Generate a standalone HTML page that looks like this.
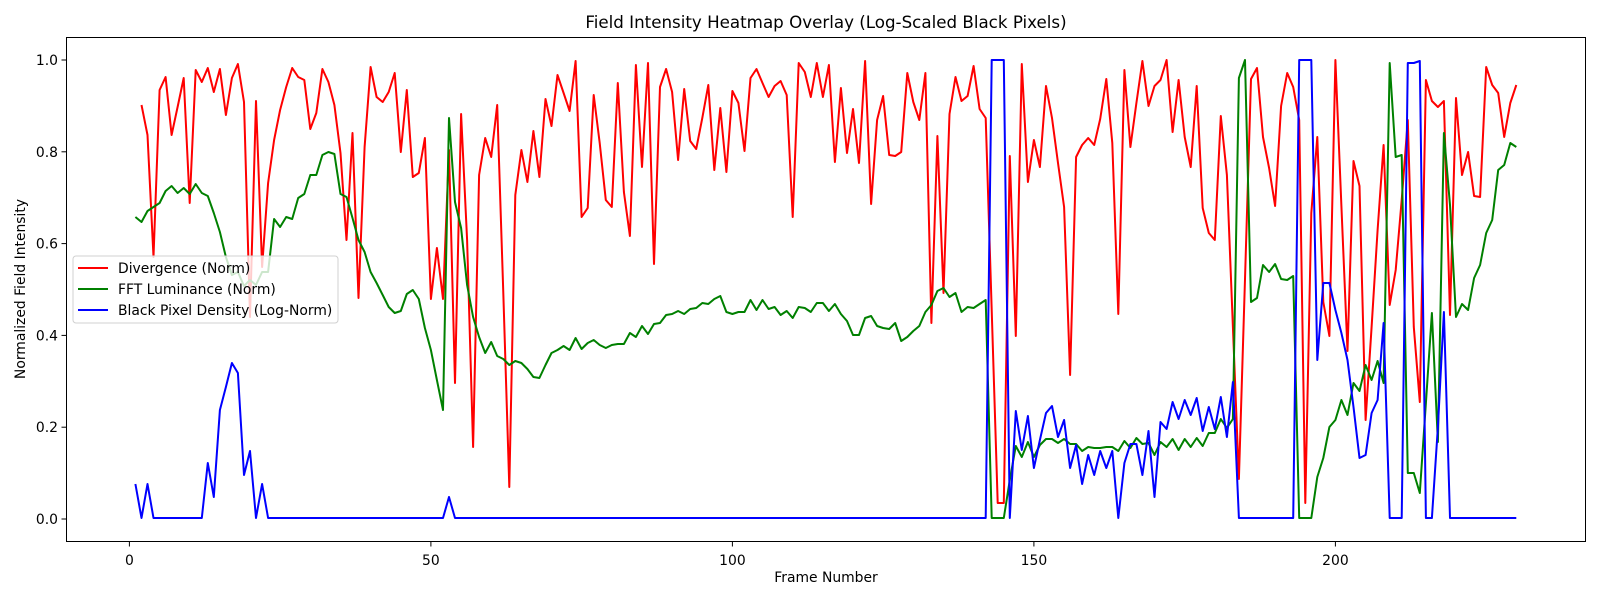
<!DOCTYPE html>
<html><head><meta charset="utf-8"><style>
html,body{margin:0;padding:0;background:#fff;}
svg{display:block;font-family:"DejaVu Sans","Liberation Sans",sans-serif;}
</style></head><body>
<svg id="s" width="1600" height="600" xmlns="http://www.w3.org/2000/svg">
<rect width="1600" height="600" fill="#fff"/>
<g id="plot"></g>
<rect x="66.5" y="37.5" width="1519" height="504" fill="none" stroke="#000" stroke-width="1"/>
<g id="ticks" font-size="13.9" fill="#000"></g>
<text x="826" y="28" font-size="16.7" text-anchor="middle">Field Intensity Heatmap Overlay (Log-Scaled Black Pixels)</text>
<text x="826" y="582" font-size="13.9" text-anchor="middle">Frame Number</text>
<text transform="translate(25,289) rotate(-90)" font-size="13.9" text-anchor="middle">Normalized Field Intensity</text>
<g>
<rect x="73" y="256" width="265" height="67" rx="3" fill="#fff" fill-opacity="0.8" stroke="#d0d0d0" stroke-width="1"/>
<line x1="78" y1="268" x2="108" y2="268" stroke="#ff0000" stroke-width="2"/>
<line x1="78" y1="289" x2="108" y2="289" stroke="#008000" stroke-width="2"/>
<line x1="78" y1="310" x2="108" y2="310" stroke="#0000ff" stroke-width="2"/>
<text x="118" y="273" font-size="13.9">Divergence (Norm)</text>
<text x="118" y="294" font-size="13.9">FFT Luminance (Norm)</text>
<text x="118" y="315" font-size="13.9">Black Pixel Density (Log-Norm)</text>
</g>
</svg>
<script>
var NS="http://www.w3.org/2000/svg";
function X(f){return 129.4+6.03*f;}
var red=[105,135,257,90,77,135,107,78,203,70,82,68,92,69,115,78,64,102,317,101,267,183,140,110,87,68,77,80,129,113,69,82,105,153,240,133,298,
147,67,97,102,92,73,152,90,177,173,138,299,248,299,150,383,114,240,447,175,138,157,105,293,487,195,150,182,131,177,99,126,75,93,111,61,217,208,95,143,200,207,
83,192,236,65,167,63,264,87,69,92,160,89,141,149,118,85,170,108,172,91,103,151,78,69,83,97,86,81,95,217,63,72,97,63,97,65,162,88,153,
109,163,61,204,120,96,155,156,152,73,102,120,73,323,136,293,114,77,101,96,66,109,118,310,503,503,156,336,64,182,140,167,86,118,163,207,375,157,145,138,
145,119,79,143,314,70,147,103,61,106,86,80,60,132,80,137,167,86,208,233,240,116,175,327,479,279,79,68,137,168,206,106,73,87,120,503,213,137,302,336,
60,206,351,161,186,420,327,230,145,305,270,200,120,327,402,80,101,107,101,315,98,175,152,196,197,67,85,93,137,103,85];
var green=[217,222,211,207,203,191,186,193,188,194,
184,193,196,213,232,257,275,272,286,280,
285,272,272,219,227,217,219,198,194,175,
175,155,152,154,194,197,218,240,252,272,
283,295,307,313,311,294,290,299,328,350,
380,410,118,202,228,285,317,337,353,342,
356,359,365,361,363,369,377,378,365,353,
350,346,350,338,349,343,340,345,348,345,
344,344,333,337,326,334,324,323,315,314,
311,314,309,308,303,304,299,296,312,314,
312,312,300,310,300,309,307,315,311,318,
307,308,312,303,303,311,304,314,321,335,
335,318,316,326,328,329,323,341,337,331,
326,312,305,291,288,297,293,312,307,308,
304,300,518,518,518,480,446,457,442,457,
445,439,439,443,439,444,444,451,447,448,
448,447,447,451,441,448,438,444,443,455,
442,447,439,450,439,447,438,446,433,433,
419,428,419,78,60,302,298,265,272,264,
279,280,276,518,518,518,477,458,427,420,
400,415,383,391,365,380,361,383,63,157,
155,473,473,493,403,313,442,133,205,317,
304,310,278,265,233,220,170,165,143,147];
var bmap={1:484,3:484,13:463,14:497,15:410,16:387,17:363,18:373,19:475,20:451,22:484,53:497,143:60,144:60,145:60,
147:411,148:450,149:416,150:468,151:440,152:413,153:406,154:437,155:420,156:468,157:445,158:484,159:455,160:475,161:451,162:468,163:451,
165:463,166:444,167:444,168:475,169:431,170:497,171:422,172:429,173:402,174:419,175:400,176:415,177:398,178:431,179:407,180:429,181:397,182:437,183:382,
194:60,195:60,196:60,197:360,198:283,199:283,200:310,201:333,202:360,203:407,204:458,205:455,206:413,207:400,208:323,212:63,213:63,214:61,217:427,218:312};
var blue=[];for(var f=1;f<=230;f++){blue.push(bmap[f]!==undefined?bmap[f]:518);}
function line(arr,start,col){var p=[];for(var i=0;i<arr.length;i++){p.push(X(start+i).toFixed(1)+","+arr[i]);}
var e=document.createElementNS(NS,"polyline");e.setAttribute("points",p.join(" "));e.setAttribute("fill","none");
e.setAttribute("stroke",col);e.setAttribute("stroke-width","2");e.setAttribute("stroke-linejoin","round");
document.getElementById("plot").appendChild(e);}
line(red,2,"#ff0000");line(green,1,"#008000");line(blue,1,"#0000ff");
var t=document.getElementById("ticks");
function el(n,a,txt){var e=document.createElementNS(NS,n);for(var k in a)e.setAttribute(k,a[k]);if(txt)e.textContent=txt;t.appendChild(e);}
[0,50,100,150,200].forEach(function(v){var x=X(v);el("line",{x1:x,y1:541.5,x2:x,y2:546.5,stroke:"#000","stroke-width":1});
el("text",{x:x,y:565,"text-anchor":"middle"},String(v));});
[0,0.2,0.4,0.6,0.8,1.0].forEach(function(v){var y=519-459*v;el("line",{x1:61.5,y1:y,x2:66.5,y2:y,stroke:"#000","stroke-width":1});
el("text",{x:58,y:y+5,"text-anchor":"end"},v.toFixed(1));});
</script>
</body></html>
